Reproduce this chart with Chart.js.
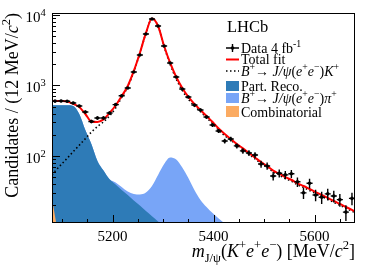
<!DOCTYPE html>
<html>
<head>
<meta charset="utf-8">
<script src="https://cdn.jsdelivr.net/npm/chart.js@4.4.1/dist/chart.umd.min.js"></script>
<style>
html, body { margin: 0; padding: 0; background: #fff; }
#wrap { width: 374px; height: 268px; }
</style>
</head>
<body>
<div id="wrap"><canvas id="massChart" width="374" height="268"></canvas></div>
<script>
// 12 MeV/c2 bins from 5080 to 5680
const massMin = 5080, massMax = 5680, binWidth = 12;
const massBins = [5086, 5098, 5110, 5122, 5134, 5146, 5158, 5170, 5182, 5194,
  5206, 5218, 5230, 5242, 5254, 5266, 5278, 5290, 5302, 5314,
  5326, 5338, 5350, 5362, 5374, 5386, 5398, 5410, 5422, 5434,
  5446, 5458, 5470, 5482, 5494, 5506, 5518, 5530, 5542, 5554,
  5566, 5578, 5590, 5602, 5614, 5626, 5638, 5650, 5662, 5674];
const counts = [600, 603, 598, 565, 512, 421, 308, 346, 346, 407,
  535, 715, 922, 1554, 2709, 5376, 8778, 6983, 3632, 2085,
  1320, 892, 687, 529, 449, 357, 275, 226, 163, 174,
  139, 118, 110, 103, 77, 72, 52, 57, 54, 56,
  43, 30, 41, 28, 26, 29, 27, 24, 16, 25];

// fit components, sampled at the range edges and the bin centres
const curveMass = [massMin, ...massBins, massMax];
const totalFit = [603, 603, 602, 593, 547, 495, 394, 308, 303, 330,
  407, 520, 708, 984, 1607, 2891, 5560, 8920, 6983, 3632,
  2085, 1320, 922, 687, 547, 449, 369, 303, 245, 205,
  174, 148, 128, 110, 95, 82, 72, 62, 56, 50,
  46, 41, 37.5, 34, 30.8, 28, 25.4, 23, 20.9, 18.9,
  17.2, 16.3];
const signalK = [53.8, 60.8, 75.3, 92.7, 115, 142, 176, 218, 262, 305,
  370, 480, 680, 955, 1575, 2850, 5510, 8880, 6950, 3555,
  1990, 1235, 853, 638, 514, 425, 350, 288, 232, 194,
  168, 143, 123, 106, 91, 78.5, 69, 59.5, 53.5, 47.8,
  43.9, 39.1, 35.8, 32.4, 29.4, 26.7, 24.2, 22, 20, 18.1,
  16.5, 15.7];
const partReco = [525, 525, 525, 525, 512, 394, 234, 148, 85, 62,
  46.6, 39.3, 33, 27.9, 23.4, 19.8, 16.6, 14.0, 11.8, 10, 8.4];
const misIdPi = [525, 525, 525, 525, 512, 394, 234, 148, 85, 62,
  46.6, 42, 36.3, 31.3, 28.9, 28.4, 30.3, 37.5, 53.8, 77,
  95.3, 89, 68.7, 48.8, 33, 23.8, 18.9, 15.5, 13, 11, 9];
const combinatorial = [25, 14, 4.2];

// axis ticks
const xTickLabels = [5200, 5400, 5600];
const yTickLabels = [100, 1000, 10000];

const serif = '"Liberation Serif", "Times New Roman", serif';
const colDark = '#2e7bb7', colLight = '#78a5f7', colOrange = '#fbab62', colRed = '#ff0000';

function pts(ys) {
  return ys.map((y, i) => ({ x: curveMass[i], y: y }));
}

// draw a run of text pieces (italic, superscript, subscript)
function drawRich(ctx, segs, x, y, size, align) {
  const parts = segs.map(s => {
    const fs = (s.sup || s.sub) ? size * 0.7 : size;
    const font = (s.it ? 'italic ' : '') + fs + 'px ' + serif;
    ctx.font = font;
    return { t: s.t, font: font, w: ctx.measureText(s.t).width,
      dy: s.sup ? -size * 0.42 : (s.sub ? size * 0.28 : 0) };
  });
  const total = parts.reduce((a, p) => a + p.w, 0);
  let cx = align === 'right' ? x - total : (align === 'center' ? x - total / 2 : x);
  ctx.textAlign = 'left';
  ctx.textBaseline = 'alphabetic';
  parts.forEach(p => {
    ctx.font = p.font;
    ctx.fillText(p.t, cx, y + p.dy);
    cx += p.w;
  });
  return total;
}

const errorBars = {
  id: 'errorBars',
  afterDatasetsDraw(chart) {
    const ctx = chart.ctx, xs = chart.scales.x, ys = chart.scales.y;
    ctx.save();
    ctx.strokeStyle = '#000';
    ctx.lineWidth = 1.4;
    massBins.forEach((m, i) => {
      const n = counts[i], err = Math.sqrt(n);
      const px = xs.getPixelForValue(m), py = ys.getPixelForValue(n);
      ctx.beginPath();
      ctx.moveTo(xs.getPixelForValue(m - binWidth / 2), py);
      ctx.lineTo(xs.getPixelForValue(m + binWidth / 2), py);
      ctx.moveTo(px, ys.getPixelForValue(n - err));
      ctx.lineTo(px, ys.getPixelForValue(n + err));
      ctx.stroke();
    });
    ctx.restore();
  }
};

const frameAndText = {
  id: 'frameAndText',
  afterDraw(chart) {
    const ctx = chart.ctx, a = chart.chartArea;
    const xs = chart.scales.x, ys = chart.scales.y;
    ctx.save();
    ctx.fillStyle = '#000';
    ctx.strokeStyle = '#000';
    ctx.lineWidth = 1;
    // frame
    ctx.strokeRect(a.left + 0.5, a.top + 0.5, a.right - a.left - 1, a.bottom - a.top - 1);
    // x ticks
    ctx.beginPath();
    for (let m = 5100; m < massMax; m += 50) {
      const px = Math.round(xs.getPixelForValue(m)) + 0.5;
      const len = xTickLabels.includes(m) ? 8 : 4;
      ctx.moveTo(px, a.bottom);
      ctx.lineTo(px, a.bottom - len);
    }
    // y ticks
    for (let dec = 10; dec <= 10000; dec *= 10) {
      for (let k = 1; k <= 9; k++) {
        const v = k * dec;
        if (v < ys.min || v > ys.max) continue;
        const py = Math.round(ys.getPixelForValue(v)) + 0.5;
        const len = k === 1 ? 8 : 4;
        ctx.moveTo(a.left, py);
        ctx.lineTo(a.left + len, py);
      }
    }
    ctx.stroke();
    // tick labels
    xTickLabels.forEach(m => {
      drawRich(ctx, [{ t: String(m) }], xs.getPixelForValue(m), 241, 15, 'center');
    });
    yTickLabels.forEach(v => {
      const py = ys.getPixelForValue(v);
      drawRich(ctx, [{ t: '10' }], 40.5, py + 7, 15, 'right');
      drawRich(ctx, [{ t: String(Math.round(Math.log10(v))), sup: true }], 40.5, py + 7, 15, 'left');
    });
    // axis titles
    drawRich(ctx, [{ t: 'm', it: true }, { t: 'J/ψ', sub: true }, { t: '(' }, { t: 'K', it: true },
      { t: '+', sup: true }, { t: 'e', it: true }, { t: '+', sup: true }, { t: 'e', it: true },
      { t: '−', sup: true }, { t: ') [MeV/' }, { t: 'c', it: true }, { t: '2', sup: true }, { t: ']' }],
      a.right, 257, 18, 'right');
    ctx.save();
    ctx.translate(18, a.top);
    ctx.rotate(-Math.PI / 2);
    drawRich(ctx, [{ t: 'Candidates / (12 MeV/' }, { t: 'c', it: true }, { t: '2', sup: true }, { t: ')' }],
      0, 0, 18, 'right');
    ctx.restore();

    // legend
    drawRich(ctx, [{ t: 'LHCb' }], 227, 32, 16.5, 'left');
    const lx = 226, lw = 13, tx = 241;
    // data
    ctx.lineWidth = 1.4;
    ctx.beginPath();
    ctx.moveTo(lx, 48); ctx.lineTo(lx + lw, 48);
    ctx.moveTo(lx + lw / 2, 44); ctx.lineTo(lx + lw / 2, 52);
    ctx.stroke();
    ctx.beginPath(); ctx.arc(lx + lw / 2, 48, 1.8, 0, 2 * Math.PI); ctx.fill();
    drawRich(ctx, [{ t: 'Data 4 fb' }, { t: '-1', sup: true }], tx, 52.5, 14, 'left');
    // total fit
    ctx.strokeStyle = colRed; ctx.lineWidth = 2;
    ctx.beginPath(); ctx.moveTo(lx, 59.5); ctx.lineTo(lx + lw, 59.5); ctx.stroke();
    drawRich(ctx, [{ t: 'Total fit' }], tx, 64, 14, 'left');
    // signal
    ctx.strokeStyle = '#000'; ctx.lineWidth = 1.6; ctx.setLineDash([1.5, 2.5]);
    ctx.beginPath(); ctx.moveTo(lx, 71); ctx.lineTo(lx + lw, 71); ctx.stroke();
    ctx.setLineDash([]);
    const bK = [{ t: 'B', it: true }, { t: '+', sup: true }, { t: '→ ' }, { t: 'J/ψ', it: true }, { t: '(' },
      { t: 'e', it: true }, { t: '+', sup: true }, { t: 'e', it: true }, { t: '−', sup: true }, { t: ')' }];
    drawRich(ctx, bK.concat([{ t: 'K', it: true }, { t: '+', sup: true }]), tx, 75.5, 14, 'left');
    // filled components
    ctx.fillStyle = colDark; ctx.fillRect(lx, 81, lw, 10);
    ctx.fillStyle = colLight; ctx.fillRect(lx, 93, lw, 10);
    ctx.fillStyle = colOrange; ctx.fillRect(lx, 106, lw, 11);
    ctx.fillStyle = '#000';
    drawRich(ctx, [{ t: 'Part. Reco.' }], tx, 90.5, 14, 'left');
    drawRich(ctx, bK.concat([{ t: 'π', it: true }, { t: '+', sup: true }]), tx, 102.5, 14, 'left');
    drawRich(ctx, [{ t: 'Combinatorial' }], tx, 116.5, 14, 'left');
    ctx.restore();
  }
};

const ctx = document.getElementById('massChart').getContext('2d');
new Chart(ctx, {
  type: 'scatter',
  data: {
    datasets: [
      { label: 'Data', data: massBins.map((m, i) => ({ x: m, y: counts[i] })),
        backgroundColor: '#000', pointRadius: 1.8, borderWidth: 0, order: 0 },
      { label: 'Total fit', data: pts(totalFit), showLine: true, borderColor: colRed, borderWidth: 2,
        pointRadius: 0, cubicInterpolationMode: 'monotone', fill: false, order: 1 },
      { label: 'Signal', data: pts(signalK), showLine: true, borderColor: '#000', borderWidth: 1.6,
        borderDash: [1.5, 2.5], pointRadius: 0, cubicInterpolationMode: 'monotone', fill: false, order: 2 },
      { label: 'Combinatorial', data: pts(combinatorial), showLine: true, borderWidth: 0,
        backgroundColor: colOrange, pointRadius: 0, fill: 'start', order: 3 },
      { label: 'Part. Reco.', data: pts(partReco), showLine: true, borderWidth: 0,
        backgroundColor: colDark, pointRadius: 0, cubicInterpolationMode: 'monotone', fill: 'start', order: 4 },
      { label: 'misID pi', data: pts(misIdPi), showLine: true, borderWidth: 0,
        backgroundColor: colLight, pointRadius: 0, cubicInterpolationMode: 'monotone', fill: 'start', order: 5 }
    ]
  },
  options: {
    responsive: false,
    animation: false,
    devicePixelRatio: 1,
    layout: { padding: { left: 52, right: 19, top: 13, bottom: 45 } },
    scales: {
      x: { type: 'linear', min: massMin, max: massMax, display: false },
      y: { type: 'logarithmic', min: 11.2, max: 10670, display: false }
    },
    plugins: { legend: { display: false }, tooltip: { enabled: false } }
  },
  plugins: [errorBars, frameAndText]
});
</script>
</body>
</html>
